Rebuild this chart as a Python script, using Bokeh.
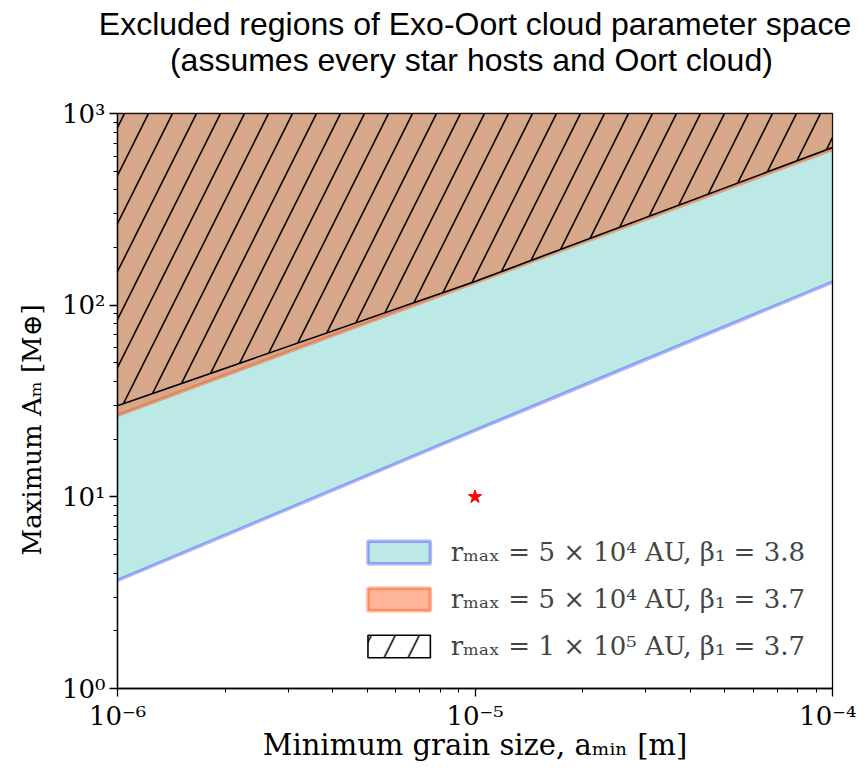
from bokeh.plotting import figure
from bokeh.models import (FixedTicker, CustomJSTickFormatter, Legend, LegendItem, Range1d,
                          ColumnDataSource)
from bokeh.embed import file_html
from bokeh.resources import INLINE

# ---- data ----
a_min = [1e-6, 1e-5, 1e-4]
blue_lower = [3.66, 22.2, 132.0]      # r_max = 5e4 AU, beta1 = 3.8
orange_lower = [26.6, 131.0, 649.0]   # r_max = 5e4 AU, beta1 = 3.7
hatch_lower = [29.9, 133.0, 664.0]    # r_max = 1e5 AU, beta1 = 3.7
region_top = [1e3, 1e3, 1e3]
star_x = [1e-5]
star_y = [10.0]
x_ticks = [1e-6, 1e-5, 1e-4]
y_ticks = [1.0, 10.0, 100.0, 1000.0]
legend_labels = [
    "rₘₐₓ = 5 × 10⁴ AU, β₁ = 3.8",
    "rₘₐₓ = 5 × 10⁴ AU, β₁ = 3.7",
    "rₘₐₓ = 1 × 10⁵ AU, β₁ = 3.7",
]
title_lines = ["Excluded regions of Exo-Oort cloud parameter space",
               "(assumes every star hosts and Oort cloud)"]
x_label = "Minimum grain size, aₘᵢₙ [m]"
y_label = "Maximum Aₘ [M⊕]"

serif = "DejaVu Serif"
NBSP = "\u00a0"

p = figure(
    x_axis_type="log", y_axis_type="log",
    x_range=Range1d(x_ticks[0], x_ticks[-1]),
    y_range=Range1d(y_ticks[0], y_ticks[-1]),
    frame_width=715, frame_height=575,
    min_border_left=117, min_border_right=24,
    min_border_top=113, min_border_bottom=76,
    output_backend="svg", toolbar_location=None,
)
p.background_fill_color = "white"
p.border_fill_color = "white"
p.outline_line_color = "black"
p.outline_line_width = 1.3
p.xgrid.visible = False
p.ygrid.visible = False

# two-line title; second line indented with no-break spaces so it sits centred,
# and an empty third line keeps the gap above the plot frame
p.title.text = title_lines[0] + "\n" + NBSP * 8 + title_lines[1] + "\n" + NBSP
p.title.align = "center"
p.title.vertical_align = "bottom"
p.title.text_font = "Liberation Sans"
p.title.text_font_style = "normal"
p.title.text_font_size = "32px"
p.title.text_color = "black"
p.title.standoff = 0

hatch = dict(hatch_pattern="/", hatch_color="black", hatch_weight=1.6, hatch_scale=48)

# fills
p.varea(x=a_min, y1=blue_lower, y2=region_top, fill_color="lightseagreen", fill_alpha=0.3)
p.varea(x=a_min, y1=orange_lower, y2=region_top, fill_color="orangered", fill_alpha=0.4)
p.line(a_min, blue_lower, line_color="blue", line_alpha=0.3, line_width=3.5)
p.line(a_min, orange_lower, line_color="orangered", line_alpha=0.4, line_width=3.5)
p.varea(x=a_min, y1=hatch_lower, y2=region_top, fill_alpha=0, **hatch)
p.line(a_min, hatch_lower, line_color="black", line_width=1.6)

p.scatter(star_x, star_y, marker="star", size=14, color="red")

# legend proxies (a single undrawn NaN row so the legend has styles to show)
nan = float("nan")
proxy = ColumnDataSource(dict(l=[nan], r=[nan], t=[nan], b=[nan]))
r1 = p.quad(left="l", right="r", top="t", bottom="b", source=proxy,
            fill_color="lightseagreen", fill_alpha=0.3,
            line_color="blue", line_alpha=0.3, line_width=3.5)
r2 = p.quad(left="l", right="r", top="t", bottom="b", source=proxy,
            fill_color="orangered", fill_alpha=0.4,
            line_color="orangered", line_alpha=0.4, line_width=3.5)
r3 = p.quad(left="l", right="r", top="t", bottom="b", source=proxy,
            fill_alpha=0, line_color="black", line_width=1.6, **hatch)
legend = Legend(items=[LegendItem(label=legend_labels[0], renderers=[r1]),
                       LegendItem(label=legend_labels[1], renderers=[r2]),
                       LegendItem(label=legend_labels[2], renderers=[r3])],
                location="bottom_right")
legend.border_line_alpha = 0
legend.background_fill_alpha = 0
legend.glyph_width = 78
legend.glyph_height = 28
legend.label_height = 28
legend.label_text_font = serif
legend.label_text_font_size = "26px"
legend.label_standoff = 13
legend.spacing = 17
legend.padding = 8
legend.margin = 19
p.add_layout(legend)

minor_x = [m * t for t in x_ticks[:-1] for m in range(2, 10)]
minor_y = [m * t for t in y_ticks[:-1] for m in range(2, 10)]
fmt = CustomJSTickFormatter(code="""
const sup = {"-":"\u207b","0":"\u2070","1":"\u00b9","2":"\u00b2","3":"\u00b3","4":"\u2074","5":"\u2075","6":"\u2076","7":"\u2077","8":"\u2078","9":"\u2079"};
const e = Math.round(Math.log10(tick));
return "10" + String(e).split("").map(c => sup[c]).join("");
""")
p.xaxis.ticker = FixedTicker(ticks=x_ticks, minor_ticks=minor_x)
p.yaxis.ticker = FixedTicker(ticks=y_ticks, minor_ticks=minor_y)
for ax in (p.xaxis, p.yaxis):
    ax.formatter = fmt
    ax.major_label_text_font = serif
    ax.major_label_text_font_size = "26px"
    ax.major_label_text_color = "black"
    ax.axis_label_text_font = serif
    ax.axis_label_text_font_style = "normal"
    ax.axis_label_text_color = "black"
    ax.major_tick_out = 8
    ax.major_tick_in = 0
    ax.minor_tick_out = 4
    ax.minor_tick_in = 0
    ax.axis_line_width = 1.3
    ax.major_tick_line_width = 1.3
    ax.minor_tick_line_width = 1.0
p.xaxis.axis_label = x_label
# trailing no-break spaces shift the rotated label down, as in the reference
p.yaxis.axis_label = y_label + NBSP * 7
p.xaxis.axis_label_text_font_size = "29px"
p.yaxis.axis_label_text_font_size = "26px"
p.xaxis.major_label_standoff = 4
p.yaxis.major_label_standoff = 4
p.xaxis.axis_label_standoff = -6
p.yaxis.axis_label_standoff = 12

open("out.html", "w").write(file_html(p, INLINE))
